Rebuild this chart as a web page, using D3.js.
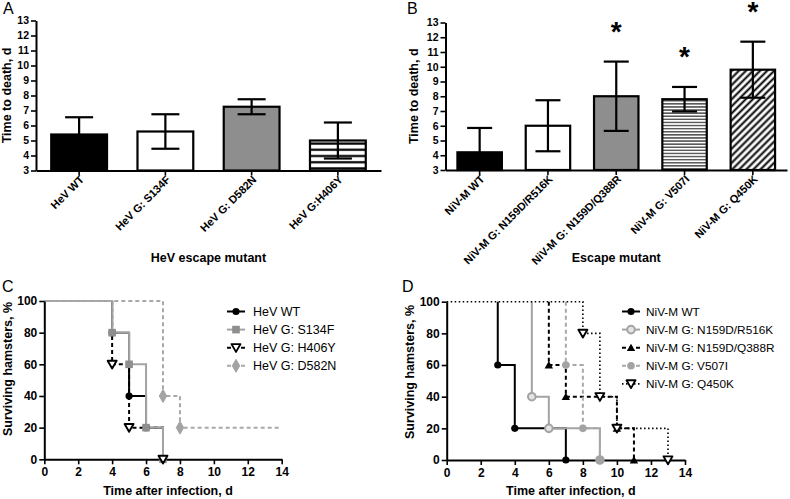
<!DOCTYPE html>
<html><head><meta charset="utf-8">
<script src="https://cdn.jsdelivr.net/npm/d3@7"></script>
<style>body{margin:0;background:#fff}svg{display:block}</style>
</head><body><svg id="c" width="790" height="499"></svg>
<script>
// ---------- DATA ----------
const barTicks = [3,4,5,6,7,8,9,10,11,12,13];
const catsA = ["HeV WT","HeV G: S134F","HeV G: D582N","HeV G:H406Y"];
const meansA = [5.4,5.6,7.25,5.0];
const errA = [1.15,1.15,0.5,1.2];
const catsB = ["NiV-M WT","NiV-M G: N159D/R516K","NiV-M G: N159D/Q388R","NiV-M G: V507I","NiV-M G: Q450K"];
const meansB = [4.2,6.0,8.0,7.8,9.8];
const errB = [1.65,1.73,2.35,0.83,1.9];
const sigB = [false,false,true,true,true];

const dayTicks = [0,2,4,6,8,10,12,14];
const pctTicks = [0,20,40,60,80,100];
const namesC = ["HeV WT","HeV G: S134F","HeV G: H406Y","HeV G: D582N"];
const timesC = [[0,4,5,6,7],[0,4,5,6,7],[0,4,5,7],[0,7,8,14]];
const survC  = [[100,80,40,20,0],[100,80,60,20,0],[100,60,20,0],[100,40,20,20]];
const namesD = ["NiV-M WT","NiV-M G: N159D/R516K","NiV-M G: N159D/Q388R","NiV-M G: V507I","NiV-M G: Q450K"];
const timesD = [[0,3,4,7],[0,5,6,9],[0,6,7,10,11],[0,7,8,9],[0,8,9,10,13]];
const survD  = [[100,60,20,0],[100,40,20,0],[100,60,40,20,0],[100,60,20,0],[100,80,40,20,0]];

// ---------- STYLE ----------
const FONT = "'Liberation Sans', Arial, Helvetica, sans-serif";
const GRAY = "#8e8e8e", LGRAY = "#a3a3a3", LGRAY2 = "#a8a8a8";
const svg = d3.select("#c").attr("font-family", FONT);
const defs = svg.append("defs");

function hPattern(id, gap, sw, y0){
  const p = defs.append("pattern").attr("id",id).attr("patternUnits","userSpaceOnUse")
    .attr("width",10).attr("height",gap).attr("y",y0);
  p.append("rect").attr("width",10).attr("height",gap).attr("fill","#fff");
  p.append("line").attr("x1",0).attr("x2",10).attr("y1",gap/2).attr("y2",gap/2)
    .attr("stroke","#000").attr("stroke-width",sw);
}
function dPattern(id, gap, sw){
  const p = defs.append("pattern").attr("id",id).attr("patternUnits","userSpaceOnUse")
    .attr("width",gap).attr("height",gap).attr("patternTransform","rotate(45)");
  p.append("rect").attr("width",gap).attr("height",gap).attr("fill","#fff");
  p.append("line").attr("x1",gap/2).attr("x2",gap/2).attr("y1",0).attr("y2",gap)
    .attr("stroke","#000").attr("stroke-width",sw);
}

function styleAxis(g, fs){
  g.attr("font-family",FONT).attr("font-size",fs).attr("font-weight","bold");
  g.select(".domain").attr("stroke","#000").attr("stroke-width",2);
  g.selectAll(".tick line").attr("stroke","#000").attr("stroke-width",1.6);
  g.selectAll(".tick text").attr("fill","#000");
}

function barPanel(c){
  const x = d3.scaleBand().domain(c.cats).range([c.x0,c.x1]).paddingInner(c.pad).paddingOuter(c.pad/2);
  const y = d3.scaleLinear().domain([3,13]).range([c.yb,c.yt]);
  const g = svg.append("g");
  c.cats.forEach((k,i)=>{
    g.append("rect").attr("x",x(k)+1).attr("width",x.bandwidth()-2)
      .attr("y",y(c.means[i])).attr("height",y(3)-y(c.means[i]))
      .attr("fill",c.fills[i]).attr("stroke","#000").attr("stroke-width",2.2);
  });
  c.cats.forEach((k,i)=>{
    const cx = x(k)+x.bandwidth()/2;
    const hi = c.means[i]+c.errs[i], lo = Math.max(3,c.means[i]-c.errs[i]);
    g.append("line").attr("x1",cx).attr("x2",cx).attr("y1",y(hi)).attr("y2",y(lo))
      .attr("stroke","#000").attr("stroke-width",2.2);
    g.append("line").attr("x1",cx-c.cap/2).attr("x2",cx+c.cap/2).attr("y1",y(hi)).attr("y2",y(hi))
      .attr("stroke","#000").attr("stroke-width",2.2);
    if (c.means[i]-c.errs[i] > 3)
      g.append("line").attr("x1",cx-c.cap/2).attr("x2",cx+c.cap/2).attr("y1",y(lo)).attr("y2",y(lo))
        .attr("stroke","#000").attr("stroke-width",2.2);
    if (c.sig && c.sig[i])
      g.append("text").attr("x",cx).attr("y",y(hi)-36.5+16).attr("text-anchor","middle")
        .attr("font-size",28).attr("font-weight","bold").text("*");
  });
  const ya = g.append("g").attr("transform",`translate(${c.x0},0)`)
    .call(d3.axisLeft(y).tickValues(barTicks).tickSize(5).tickSizeOuter(0).tickPadding(2));
  styleAxis(ya, 10.5);
  const xa = g.append("g").attr("transform",`translate(0,${y(3)})`)
    .call(d3.axisBottom(x).tickSize(5).tickSizeOuter(0));
  styleAxis(xa, 11);
  xa.selectAll(".tick text").attr("x",-3).attr("y",7).attr("dy","0.35em")
    .attr("text-anchor","end").attr("transform","rotate(-45)");
  g.append("text").attr("transform",`translate(${c.ytx},${(c.yt+c.yb)/2}) rotate(-90)`)
    .attr("text-anchor","middle").attr("dy","0.35em").attr("font-size",12.5).attr("font-weight","bold")
    .text("Time to death, d");
  g.append("text").attr("x",(c.x0+c.x1)/2).attr("y",261.5).attr("text-anchor","middle")
    .attr("font-size",12.5).attr("font-weight","bold").text(c.xtitle);
  svg.append("text").attr("x",c.lx).attr("y",14).attr("font-size",16).text(c.letter);
}

hPattern("hstripe", 6.2, 2.2, 140.5);
hPattern("thinstripe", 3.1, 1, 0);
dPattern("diag", 5, 2);

barPanel({cats:catsA, means:meansA, errs:errA, x0:36, x1:381, yb:170.5, yt:20.5, pad:0.33, cap:28,
  fills:["#000","#fff",GRAY,"url(#hstripe)"], ytx:7, xtitle:"HeV escape mutant", letter:"A", lx:3});
barPanel({cats:catsB, means:meansB, errs:errB, sig:sigB, x0:445.5, x1:787, yb:170, yt:22.5, pad:0.32, cap:25,
  fills:["#000","#fff",GRAY,"url(#thinstripe)","url(#diag)"], ytx:414, xtitle:"Escape mutant", letter:"B", lx:407});

// ---------- SURVIVAL ----------
function drawMarker(g, type, cx, cy){
  if (type==="dot") g.append("circle").attr("cx",cx).attr("cy",cy).attr("r",3.6).attr("fill","#000");
  else if (type==="square") g.append("rect").attr("x",cx-3.8).attr("y",cy-3.8).attr("width",7.6).attr("height",7.6).attr("fill",GRAY);
  else if (type==="tdown") g.append("path").attr("d",`M${cx-4.5},${cy-3.6}L${cx+4.5},${cy-3.6}L${cx},${cy+4.2}Z`)
      .attr("fill","#fff").attr("stroke","#000").attr("stroke-width",1.9).attr("stroke-linejoin","round");
  else if (type==="tup") g.append("path").attr("d",`M${cx-4.2},${cy+3.4}L${cx+4.2},${cy+3.4}L${cx},${cy-4}Z`).attr("fill","#000");
  else if (type==="diamond") g.append("path").attr("d",d3.symbol(d3.symbolDiamond,48)()).attr("transform",`translate(${cx},${cy})`)
      .attr("fill",LGRAY).attr("stroke",LGRAY).attr("stroke-width",1).attr("stroke-linejoin","round");
  else if (type==="ring") g.append("circle").attr("cx",cx).attr("cy",cy).attr("r",3.8).attr("fill","#e4e4e4").attr("stroke",LGRAY).attr("stroke-width",2);
  else if (type==="gdot") g.append("circle").attr("cx",cx).attr("cy",cy).attr("r",3.8).attr("fill",LGRAY);
}

function survPanel(c){
  const x = d3.scaleLinear().domain([0,14]).range([c.x0,c.x1]);
  const y = d3.scaleLinear().domain([0,100]).range([c.yb,c.yt]);
  const g = svg.append("g");
  const line = d3.line().x(d=>x(d[0])).y(d=>y(d[1])).curve(d3.curveStepAfter);
  c.lineOrder.forEach(i=>{
    const st = c.styles[i];
    let pts = c.times[i].map((t,j)=>[t,c.surv[i][j]]);
    if (!st.lead) pts[0] = [pts[1][0],100];
    g.append("path").attr("d",line(pts)).attr("fill","none").attr("stroke",st.color)
      .attr("stroke-width",st.w).attr("stroke-dasharray",st.dash);
  });
  const ya = g.append("g").attr("transform",`translate(${c.x0},0)`)
    .call(d3.axisLeft(y).tickValues(pctTicks).tickSize(5).tickSizeOuter(0).tickPadding(2));
  styleAxis(ya, 12);
  const xa = g.append("g").attr("transform",`translate(0,${c.yb})`)
    .call(d3.axisBottom(x).tickValues(dayTicks).tickSize(5).tickSizeOuter(0).tickPadding(3));
  styleAxis(xa, 12);
  c.times.forEach((ts,i)=>{
    ts.forEach((t,j)=>{
      if (j>0 && c.surv[i][j] < c.surv[i][j-1]) drawMarker(g, c.styles[i].m, x(t), y(c.surv[i][j]));
    });
  });
  g.append("text").attr("transform",`translate(${c.ytx},${c.yty}) rotate(-90)`)
    .attr("text-anchor","middle").attr("dy","0.35em").attr("font-size",12.5).attr("font-weight","bold")
    .text("Surviving hamsters, %");
  g.append("text").attr("x",(c.x0+c.x1)/2+5).attr("y",c.xty).attr("text-anchor","middle")
    .attr("font-size",12.5).attr("font-weight","bold").text("Time after infection, d");
  svg.append("text").attr("x",c.lx).attr("y",292).attr("font-size",16).text(c.letter);
  c.names.forEach((n,i)=>{
    const st = c.styles[i], ly = 311.5 + i*18.1;
    g.append("line").attr("x1",c.legX).attr("x2",c.legX+18).attr("y1",ly).attr("y2",ly)
      .attr("stroke",st.color).attr("stroke-width",st.w).attr("stroke-dasharray",st.dash);
    drawMarker(g, st.m, c.legX+9, ly);
    g.append("text").attr("x",c.legX+c.legGap).attr("y",ly).attr("dy","0.35em").attr("font-size",c.legFs).text(n);
  });
}

const stylesC = [
  {color:"#000", w:2, dash:null, m:"dot"},
  {color:LGRAY, w:2, dash:null, m:"square", lead:true},
  {color:"#000", w:2, dash:"4,3", m:"tdown"},
  {color:LGRAY2, w:2, dash:"4,3", m:"diamond", lead:true}
];
survPanel({x0:44.3, x1:281.7, yb:459.3, yt:301, names:namesC, times:timesC, surv:survC, styles:stylesC,
  lineOrder:[0,2,1,3], ytx:8, yty:369, xty:495, letter:"C", lx:2, legX:227, legGap:26, legFs:12.5});

const stylesD = [
  {color:"#000", w:2, dash:null, m:"dot"},
  {color:LGRAY, w:2, dash:null, m:"ring"},
  {color:"#000", w:2, dash:"4,3", m:"tup"},
  {color:LGRAY2, w:2, dash:"4,3", m:"gdot"},
  {color:"#000", w:1.6, dash:"1.5,2.5", m:"tdown", lead:true}
];
survPanel({x0:446.7, x1:685, yb:460, yt:301.7, names:namesD, times:timesD, surv:survD, styles:stylesD,
  lineOrder:[0,1,2,3,4], ytx:410, yty:372, xty:495, letter:"D", lx:402, legX:622, legGap:24, legFs:11.8});
</script></body></html>
